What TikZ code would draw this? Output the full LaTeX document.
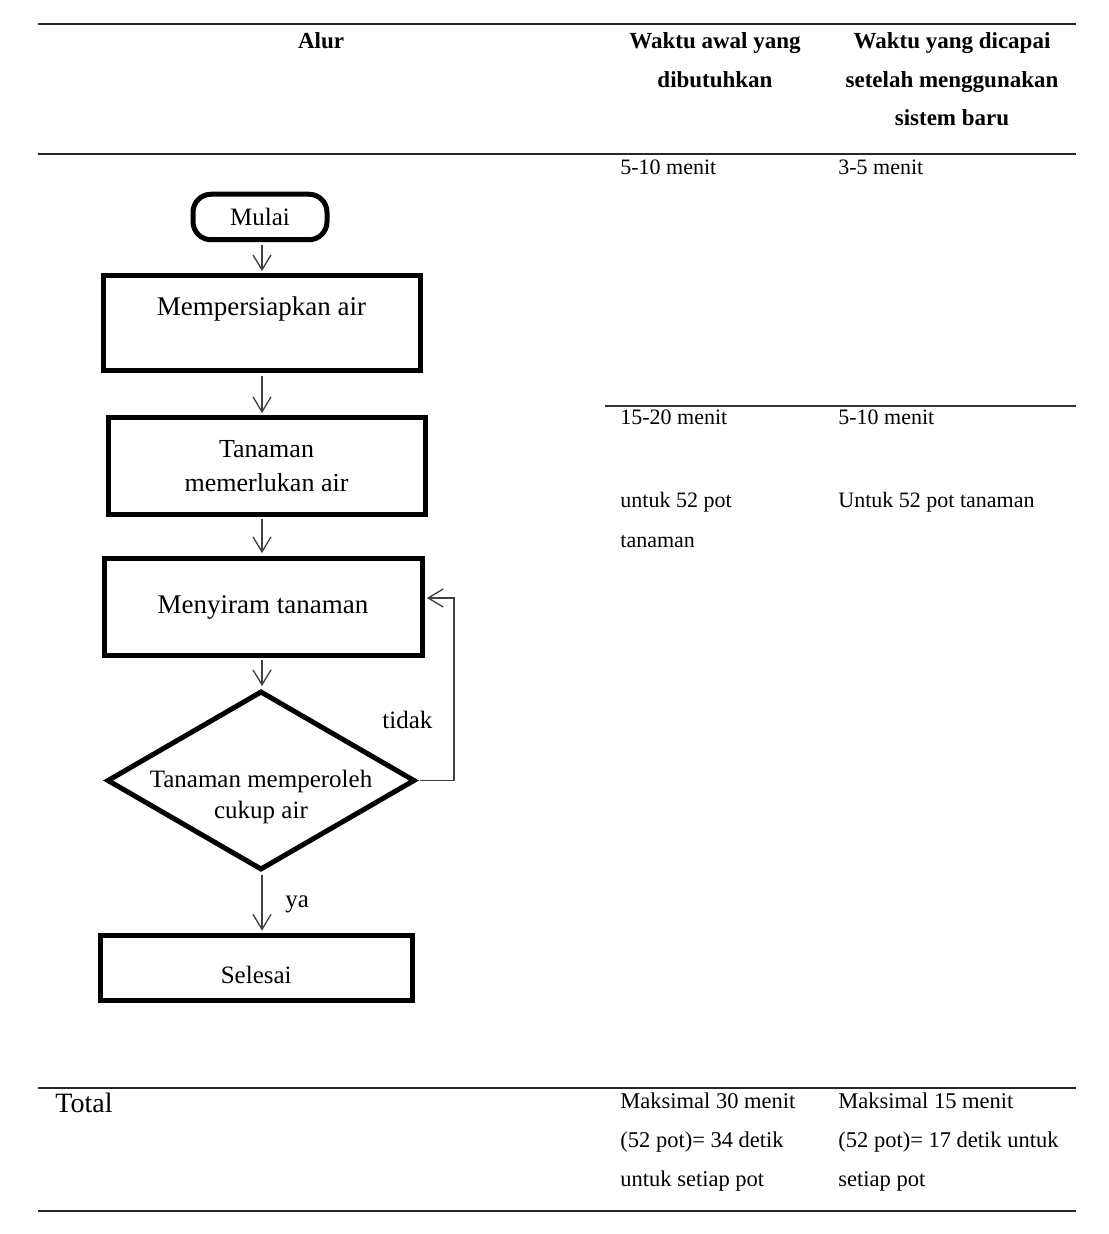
\documentclass[tikz,border=0pt]{standalone}
\usepackage{fontspec}
\setmainfont{Liberation Serif}
\usetikzlibrary{arrows.meta,shapes.geometric}
\begin{document}
\begin{tikzpicture}[x=0.5pt,y=-0.5pt,
  hdr/.style={font=\fontsize{11.5pt}{19.25pt}\selectfont\bfseries, inner sep=0pt, align=center, anchor=north},
  cell/.style={font=\fontsize{11pt}{20pt}\selectfont, inner sep=0pt, align=left},
  tot/.style={font=\fontsize{11.25pt}{19.5pt}\selectfont, inner sep=0pt, align=left, anchor=north west},
  trule/.style={line width=1.2pt, draw=black!85},
  thinrule/.style={line width=0.75pt, draw=black!80},
  fbox/.style={draw, line width=2.5pt, inner sep=0pt, align=center, font=\fontsize{13.5pt}{17pt}\selectfont},
  arr/.style={draw=black!75, line width=0.65pt, -{Straight Barb[length=7.5pt,width=9pt]}, shorten >=1.2pt, shorten <=1.2pt},
  lbl/.style={font=\fontsize{12.5pt}{15pt}\selectfont, inner sep=0pt, anchor=base west}
]
\useasboundingbox (0,0) rectangle (1108,1234);
\fill[white] (0,0) rectangle (1108,1234);

% table rules
\draw[trule] (38,24) -- (1076,24);
\draw[trule] (38,154) -- (1076,154);
\draw[thinrule] (605,406) -- (1076,406);
\draw[trule] (38,1088) -- (1076,1088);
\draw[trule] (38,1211) -- (1076,1211);

% headers
\node[hdr] (hAlur) at (321,32.4) {Alur};
\node[hdr] (hAwal) at (715,32.4) {Waktu awal yang\\dibutuhkan};
\node[hdr] (hBaru) at (952,32.4) {Waktu yang dicapai\\setelah menggunakan\\sistem baru};

% cells
\node[cell, anchor=base west] (c1a) at (620,175) {5-10 menit};
\node[cell, anchor=base west] (c1b) at (838,175) {3-5 menit};
\node[cell, anchor=base west] (c2a) at (620,425) {15-20 menit};
\node[cell, anchor=base west] (c2b) at (838,425) {5-10 menit};
\node[cell, anchor=north west] (c3a) at (620,492) {untuk 52 pot\\tanaman};
\node[cell, anchor=base west] (c3b) at (838,507) {Untuk 52 pot tanaman};

% total row
\node[font=\fontsize{14pt}{16pt}\selectfont, inner sep=0pt, anchor=base west] (total) at (55,1112) {Total};
\node[tot] (t1) at (620,1092.5) {Maksimal 30 menit\\(52 pot)= 34 detik\\untuk setiap pot};
\node[tot] (t2) at (838,1092.5) {Maksimal 15 menit\\(52 pot)= 17 detik untuk\\setiap pot};

% flowchart
\node[fbox, rounded corners=9pt, minimum width=67pt, minimum height=22.75pt, font=\fontsize{12.5pt}{15pt}\selectfont] (mulai) at (260,217) {Mulai};
\node[fbox, minimum width=158.5pt, text height=20pt, text depth=27.5pt] (prep) at (261.5,323.5) {Mempersiapkan air};
\node[fbox, minimum width=158.5pt, minimum height=48pt, font=\fontsize{13pt}{17pt}\selectfont] (tanam) at (266.5,466) {Tanaman\\memerlukan air};
\node[fbox, minimum width=159pt, text height=27.5pt, text depth=21pt] (nyiram) at (263,606.5) {Menyiram tanaman};
\node[draw, diamond, line width=2.5pt, minimum width=154pt, minimum height=89.5pt, inner sep=0pt] (dec) at (261,780.5) {};
\node[align=center, font=\fontsize{12.5pt}{15.5pt}\selectfont, inner sep=0pt, anchor=north] (dectext) at (261,770) {Tanaman memperoleh\\cukup air};
\node[fbox, minimum width=156.25pt, text height=23.75pt, text depth=8.5pt, font=\fontsize{12.5pt}{15pt}\selectfont] (selesai) at (256.25,967.75) {Selesai};

\node[lbl] (tidak) at (382,728) {tidak};
\node[lbl] (ya) at (285,907) {ya};

% connectors
\coordinate (ax) at (262,0);
\coordinate (lp) at (454,598);
\draw[arr] (mulai.south -| ax) -- (prep.north -| ax);
\draw[arr] (prep.south -| ax) -- (tanam.north -| ax);
\draw[arr] (tanam.south -| ax) -- (nyiram.north -| ax);
\draw[arr] (nyiram.south -| ax) -- (dec.north -| ax);
\draw[arr] (dec.south -| ax) -- (selesai.north -| ax);
\draw[arr] (dec.east) -| (lp) -- (lp -| nyiram.east);
\end{tikzpicture}
\end{document}
